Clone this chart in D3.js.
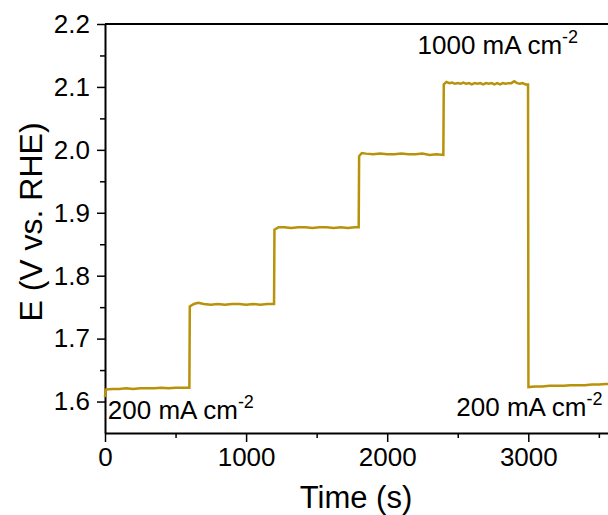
<!DOCTYPE html>
<html>
<head>
<meta charset="utf-8">
<script src="https://cdn.jsdelivr.net/npm/d3@7"></script>
<style>
  body { margin: 0; background: #fff; }
  text { font-family: Arial, "Liberation Sans", sans-serif; fill: #000; }
</style>
</head>
<body>
<svg class="chart"></svg>
<script>
// chronopotentiometry, values
var time = [
  0, 4, 50, 100, 150, 200, 250, 300, 350, 400, 450, 500, 550, 598,
  601, 630, 660, 700, 750, 800, 850, 900, 950, 1000, 1050, 1100, 1150, 1198,
  1201, 1230, 1270, 1320, 1370, 1420, 1470, 1520, 1570, 1620, 1670, 1720, 1770, 1798,
  1801, 1820, 1850, 1900, 1950, 2000, 2050, 2100, 2150, 2200, 2250, 2300, 2350, 2398,
  2401, 2420, 2440, 2460, 2480, 2500, 2520, 2540, 2560, 2580, 2600, 2620, 2640, 2660,
  2680, 2700, 2720, 2740, 2760, 2780, 2800, 2820, 2840, 2860, 2880, 2900, 2920, 2940, 2960, 2980, 2998,
  3001, 3050, 3100, 3150, 3200, 3250, 3300, 3350, 3400, 3450, 3500, 3550, 3600, 3700
];
var potential = [
  1.607, 1.619, 1.620, 1.620, 1.621, 1.620, 1.621, 1.621, 1.621, 1.622, 1.621, 1.622, 1.622, 1.622,
  1.751, 1.755, 1.757, 1.755, 1.754, 1.755, 1.754, 1.755, 1.755, 1.754, 1.755, 1.754, 1.755, 1.755,
  1.873, 1.877, 1.877, 1.876, 1.877, 1.877, 1.876, 1.877, 1.877, 1.876, 1.877, 1.876, 1.877, 1.877,
  1.990, 1.995, 1.994, 1.993, 1.994, 1.993, 1.993, 1.994, 1.993, 1.993, 1.994, 1.992, 1.993, 1.992,
  2.104, 2.108, 2.106, 2.107, 2.105, 2.106, 2.105, 2.107, 2.105, 2.106, 2.104, 2.106, 2.105, 2.106,
  2.104, 2.106, 2.105, 2.106, 2.104, 2.106, 2.104, 2.106, 2.105, 2.106, 2.106, 2.109, 2.106, 2.105, 2.106, 2.104, 2.104,
  1.623, 1.624, 1.624, 1.625, 1.625, 1.625, 1.626, 1.626, 1.626, 1.627, 1.627, 1.628, 1.628, 1.629
];

var xMajor = [0, 1000, 2000, 3000];
var xMinor = [500, 1500, 2500, 3500];
var yMajor = [1.6, 1.7, 1.8, 1.9, 2.0, 2.1, 2.2];
var yMinor = [1.65, 1.75, 1.85, 1.95, 2.05, 2.15];

var labels = [
  { text: "200 mA cm", sup: "-2", t: 20, e: 1.573 },
  { text: "1000 mA cm", sup: "-2", t: 2215, e: 2.152 },
  { text: "200 mA cm", sup: "-2", t: 2490, e: 1.577 }
];

var width = 608, height = 515;
var padLeft = 105, padTop = 24, padBottom = 433;

var svg = d3.select(".chart")
    .attr("width", width)
    .attr("height", height);

var x = d3.scaleLinear().domain([0, 3700]).range([padLeft, padLeft + 3.7 * 141.1]);
var y = d3.scaleLinear().domain([1.55, 2.2]).range([padBottom, padTop]);

var color = "#b8920a";

// minor ticks first
svg.append("g")
    .attr("transform", "translate(0," + padBottom + ")")
    .call(d3.axisBottom(x).tickValues(xMinor).tickSize(5).tickFormat(""))
    .call(function (g) { g.select(".domain").remove(); })
    .selectAll("line").attr("stroke-width", 1.5);

svg.append("g")
    .attr("transform", "translate(" + padLeft + ",0)")
    .call(d3.axisLeft(y).tickValues(yMinor).tickSize(5).tickFormat(""))
    .call(function (g) { g.select(".domain").remove(); })
    .selectAll("line").attr("stroke-width", 1.5);

var xAxis = svg.append("g")
    .attr("transform", "translate(0," + padBottom + ")")
    .call(d3.axisBottom(x).tickValues(xMajor).tickSize(9).tickSizeOuter(0).tickPadding(6)
      .tickFormat(d3.format("d")));

var yAxis = svg.append("g")
    .attr("transform", "translate(" + padLeft + ",0)")
    .call(d3.axisLeft(y).tickValues(yMajor).tickSize(8).tickSizeOuter(0).tickPadding(7)
      .tickFormat(d3.format(".1f")));

[xAxis, yAxis].forEach(function (g) {
  g.selectAll("line").attr("stroke-width", 1.5);
  g.select(".domain").attr("stroke-width", 2);
  g.selectAll("text").style("font-size", "26px").attr("fill", "#000");
});

// top frame line
svg.append("line")
    .attr("x1", padLeft).attr("x2", width)
    .attr("y1", padTop).attr("y2", padTop)
    .attr("stroke", "#000").attr("stroke-width", 2);

var line = d3.line()
    .x(function (d, i) { return x(time[i]); })
    .y(function (d) { return y(d); });

svg.append("path")
    .datum(potential)
    .attr("fill", "none")
    .attr("stroke", color)
    .attr("stroke-width", 2.5)
    .attr("d", line);

// annotations
var ann = svg.selectAll(".ann")
    .data(labels)
    .enter().append("text")
    .attr("class", "ann")
    .attr("x", function (d) { return x(d.t); })
    .attr("y", function (d) { return y(d.e); })
    .style("font-size", "26px");

ann.append("tspan").text(function (d) { return d.text; });
ann.append("tspan")
    .attr("dy", -11)
    .style("font-size", "18px")
    .text(function (d) { return d.sup; });

svg.append("text")
    .attr("x", 356)
    .attr("y", 508)
    .attr("text-anchor", "middle")
    .style("font-size", "31px")
    .text("Time (s)");

svg.append("text")
    .attr("transform", "translate(42,222) rotate(-90)")
    .attr("text-anchor", "middle")
    .style("font-size", "32px")
    .text("E (V vs. RHE)");
</script>
</body>
</html>
